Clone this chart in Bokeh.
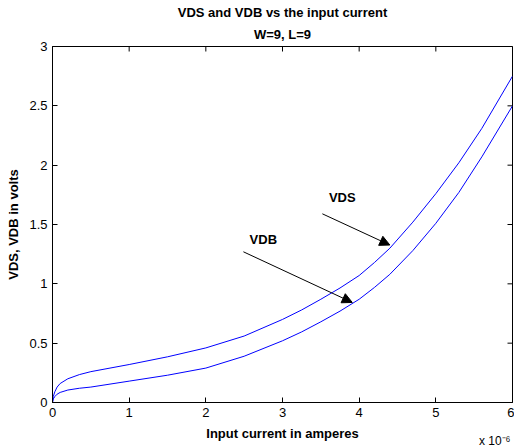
import math
from bokeh.plotting import figure
from bokeh.models import (Label, Arrow, NormalHead, FixedTicker,
                          CustomJSTickFormatter, Title)
from bokeh.embed import file_html
from bokeh.resources import INLINE

# Input current in units of 1e-6 A
current = [0, 0.01, 0.03, 0.06, 0.1, 0.2, 0.35, 0.5, 0.75, 1.0, 1.5, 2.0, 2.5,
           3.0, 3.25, 3.5, 3.75, 4.0, 4.2, 4.4, 4.7, 5.0, 5.3, 5.6, 6.0]
vds = [0, 0.05, 0.09, 0.13, 0.16, 0.20, 0.235, 0.26, 0.29, 0.32, 0.385, 0.46, 0.56,
       0.70, 0.78, 0.87, 0.965, 1.07, 1.18, 1.30, 1.52, 1.76, 2.02, 2.31, 2.75]
vdb = [0, 0.03, 0.05, 0.07, 0.085, 0.105, 0.12, 0.13, 0.155, 0.18, 0.23, 0.29, 0.39,
       0.52, 0.595, 0.68, 0.77, 0.87, 0.97, 1.08, 1.28, 1.51, 1.77, 2.07, 2.50]

x_ticks = [0, 1, 2, 3, 4, 5, 6]
y_ticks = [0, 0.5, 1, 1.5, 2, 2.5, 3]
x_min, x_max = 0, 6
y_min, y_max = 0, 3

title_line1 = "VDS and VDB vs the input current"
title_line2 = "W=9, L=9"
x_label = "Input current in amperes"
y_label = "VDS, VDB in volts"
x_exponent = "x 10\u207b\u2076"

# annotations: (text, text_x, text_y, arrow_start_x, arrow_start_y, arrow_end_x, arrow_end_y)
annot_vds = ("VDS", 3.78, 1.73, 3.52, 1.59, 4.40, 1.327)
annot_vdb = ("VDB", 2.75, 1.37, 2.49, 1.27, 3.91, 0.843)

FONT = "Liberation Sans"

p = figure(width=514, height=447, x_range=(x_min, x_max), y_range=(y_min, y_max),
           output_backend="svg", toolbar_location=None,
           min_border_left=52, min_border_right=2, min_border_top=46, min_border_bottom=45)
p.background_fill_color = "white"
p.border_fill_color = "white"
p.grid.visible = False
p.outline_line_color = "black"
p.outline_line_alpha = 1.0
p.outline_line_width = 1

# two-line title
p.title = Title(text=title_line1, align="center", text_font=FONT, text_font_size="13px",
                text_font_style="bold", text_color="black", standoff=0)
p.add_layout(Title(text=title_line2, align="center", text_font=FONT, text_font_size="13px",
                   text_font_style="bold", text_color="black", standoff=10), "above")

for ax in (p.xaxis[0], p.yaxis[0]):
    ax.major_tick_in = 5
    ax.major_tick_out = 0
    ax.minor_tick_in = 0
    ax.minor_tick_out = 0
    ax.axis_line_color = "black"
    ax.major_tick_line_color = "black"
    ax.major_label_text_font = FONT
    ax.major_label_text_font_size = "13px"
    ax.major_label_text_color = "black"
    ax.axis_label_text_font = FONT
    ax.axis_label_text_font_size = "13px"
    ax.axis_label_text_font_style = "bold"
    ax.axis_label_text_color = "black"
    ax.major_label_standoff = 5

p.xaxis[0].ticker = FixedTicker(ticks=x_ticks)
p.yaxis[0].ticker = FixedTicker(ticks=y_ticks)
p.xaxis[0].formatter = CustomJSTickFormatter(code="return tick.toString();")
p.yaxis[0].formatter = CustomJSTickFormatter(code="return tick.toString();")
p.xaxis[0].axis_label = x_label
p.yaxis[0].axis_label = y_label
p.xaxis[0].axis_label_standoff = 6
p.yaxis[0].axis_label_standoff = 5

# exponent note under the right end of the x axis
p.add_layout(Title(text=x_exponent, align="right", vertical_align="top", offset=2,
                   standoff=-20, text_font=FONT, text_font_size="12px",
                   text_font_style="normal", text_color="black"), "below")

# inward ticks on the top and right edges of the box (half of each dash is clipped)
p.scatter(x_ticks, [y_max] * len(x_ticks), marker="dash", size=10, angle=math.pi / 2,
          line_color="black", line_width=1)
p.scatter([x_max] * len(y_ticks), y_ticks, marker="dash", size=10,
          line_color="black", line_width=1)

p.line(current, vds, line_color="#0000ff", line_width=1)
p.line(current, vdb, line_color="#0000ff", line_width=1)

for txt, tx, ty, xs, ys, xe, ye in (annot_vds, annot_vdb):
    p.add_layout(Arrow(end=NormalHead(size=10, fill_color="black", line_color="black"),
                       x_start=xs, y_start=ys, x_end=xe, y_end=ye,
                       line_color="black", line_width=1))
    p.add_layout(Label(x=tx, y=ty, text=txt, text_align="center", text_baseline="middle",
                       text_font=FONT, text_font_size="13px", text_font_style="bold",
                       text_color="black"))

open("out.html", "w").write(file_html(p, INLINE))
